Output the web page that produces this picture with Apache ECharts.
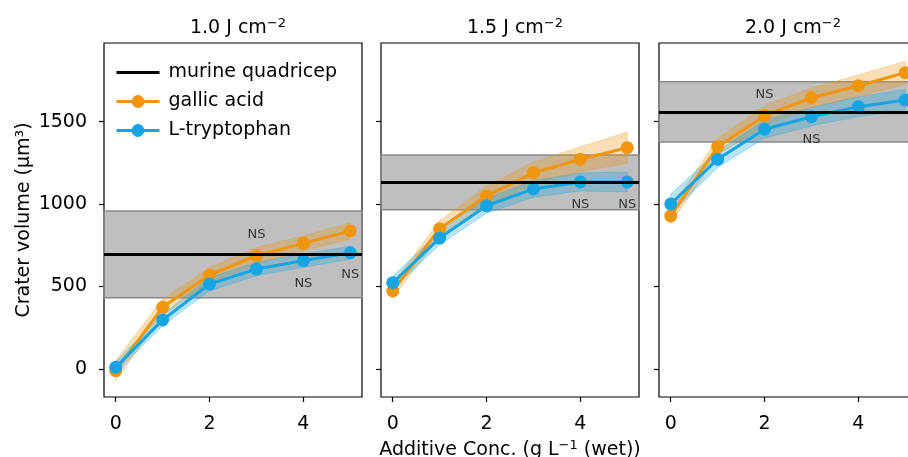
<!DOCTYPE html>
<html>
<head>
<meta charset="utf-8">
<script src="https://cdn.jsdelivr.net/npm/echarts@6/dist/echarts.min.js"></script>
<style>
  html, body { margin: 0; padding: 0; background: #fff; }
  #chart { width: 908px; height: 457px; }
</style>
</head>
<body>
<div id="chart"></div>
<script>
// 数据
const xValues = [0, 1, 2, 3, 4, 5];
const fluences = ['1.0', '1.5', '2.0'];
const xTicks = [0, 2, 4];
const yTicks = [0, 500, 1000, 1500];

const murineMean = [695, 1130, 1557];
const murineLow = [432, 966, 1377];
const murineHigh = [958, 1297, 1742];

const gallicMean = [
  [-10, 374, 570, 687, 762, 837],
  [473, 851, 1049, 1190, 1272, 1342],
  [928, 1348, 1536, 1645, 1718, 1797]
];
const gallicErr = [
  [60, 50, 45, 50, 45, 50],
  [40, 50, 60, 65, 75, 95],
  [45, 50, 60, 60, 65, 70]
];
const tryptoMean = [
  [10, 297, 515, 606, 657, 705],
  [523, 794, 990, 1092, 1134, 1134],
  [1001, 1272, 1454, 1530, 1591, 1631]
];
const tryptoErr = [
  [35, 35, 40, 40, 40, 40],
  [40, 40, 45, 50, 55, 60],
  [60, 50, 55, 55, 60, 65]
];
// NS 标注位置
const nsMarks = [
  [[3, 812], [4, 520], [5, 570]],
  [[4, 996], [5, 996]],
  [[2, 1666], [3, 1393]]
];

const ORANGE = '#F0950C';
const BLUE = '#16A4E2';
const FONT = 'DejaVu Sans';

const gridLefts = [104, 381, 659];
const gridWidth = 258;

const grids = gridLefts.map(l => ({
  left: l, top: 43, width: gridWidth, height: 354,
  outerBoundsMode: 'none',
  show: true, borderColor: '#000', borderWidth: 1.2, backgroundColor: '#fff'
}));

const xAxes = gridLefts.map((l, i) => ({
  type: 'value', gridIndex: i, min: -0.25, max: 5.25,
  splitLine: { show: false },
  axisLine: { show: false, onZero: false },
  axisTick: { show: true, customValues: xTicks, length: 5, lineStyle: { color: '#000', width: 1.2 } },
  axisLabel: { customValues: xTicks, color: '#000', fontSize: 19, fontFamily: FONT, margin: 18 },
  name: i === 1 ? 'Additive Conc. (g L{sup|−1} (wet))' : '',
  nameLocation: 'middle', nameGap: 42,
  nameTextStyle: {
    color: '#000', fontSize: 19, fontFamily: FONT,
    rich: { sup: { fontSize: 13, fontFamily: FONT, color: '#000', padding: [0, 0, 10, 0] } }
  }
}));

const yAxes = gridLefts.map((l, i) => ({
  type: 'value', gridIndex: i, min: -170, max: 1977,
  splitLine: { show: false },
  axisLine: { show: false, onZero: false },
  axisTick: { show: true, customValues: yTicks, length: 5, lineStyle: { color: '#000', width: 1.2 } },
  axisLabel: {
    show: i === 0, customValues: yTicks, color: '#000', fontSize: 19, fontFamily: FONT, margin: 17,
    formatter: v => String(v)
  },
  name: i === 0 ? 'Crater volume (µm³)' : '',
  nameLocation: 'middle', nameGap: 70,
  nameTextStyle: { color: '#000', fontSize: 19, fontFamily: FONT }
}));

// 误差带，用多边形画
function bandSeries(mean, err, color, i) {
  const low = mean.map((v, k) => v - err[k]);
  const high = mean.map((v, k) => v + err[k]);
  return {
    type: 'custom', xAxisIndex: i, yAxisIndex: i, silent: true, z: 2,
    data: xValues.map((x, k) => [x, low[k], high[k]]),
    renderItem: (params, api) => {
      if (params.dataIndex !== 0) return;
      const top = xValues.map((x, k) => api.coord([x, high[k]]));
      const bot = xValues.map((x, k) => api.coord([x, low[k]])).reverse();
      return {
        type: 'polygon',
        shape: { points: top.concat(bot) },
        style: { fill: color, stroke: color, lineWidth: 1, opacity: 0.3 }
      };
    }
  };
}

function pairs(ys) {
  return xValues.map((x, k) => [x, ys[k]]);
}

const series = [];
for (let i = 0; i < 3; i++) {
  // 小鼠股四头肌参考线和范围
  series.push({
    name: 'murine quadricep', type: 'line', xAxisIndex: i, yAxisIndex: i,
    data: [], symbol: 'none', z: 1,
    lineStyle: { color: '#000', width: 3 }, itemStyle: { color: '#000', opacity: 0 },
    markArea: {
      silent: true,
      itemStyle: { color: 'rgba(128,128,128,0.5)', borderColor: '#8a8a8a', borderWidth: 1.5, opacity: 1 },
      data: [[{ yAxis: murineLow[i] }, { yAxis: murineHigh[i] }]]
    },
    markLine: {
      silent: true, symbol: ['none', 'none'], label: { show: false },
      lineStyle: { color: '#000', width: 3, type: 'solid', opacity: 1 },
      data: [{ yAxis: murineMean[i] }]
    }
  });

  series.push(bandSeries(gallicMean[i], gallicErr[i], ORANGE, i));
  series.push(bandSeries(tryptoMean[i], tryptoErr[i], BLUE, i));

  series.push({
    name: 'gallic acid', type: 'line', xAxisIndex: i, yAxisIndex: i,
    data: pairs(gallicMean[i]), symbol: 'circle', symbolSize: 13, z: 3,
    lineStyle: { color: ORANGE, width: 3 }, itemStyle: { color: ORANGE }
  });
  series.push({
    name: 'L-tryptophan', type: 'line', xAxisIndex: i, yAxisIndex: i,
    data: pairs(tryptoMean[i]), symbol: 'circle', symbolSize: 13, z: 4,
    lineStyle: { color: BLUE, width: 3 }, itemStyle: { color: BLUE }
  });

  series.push({
    name: 'ns' + i, type: 'scatter', xAxisIndex: i, yAxisIndex: i,
    data: nsMarks[i], symbolSize: 0, silent: true, z: 5,
    label: { show: true, position: 'inside', formatter: 'NS', color: '#111', fontSize: 13, fontFamily: FONT }
  });
}

const titles = gridLefts.map((l, i) => ({
  text: fluences[i] + ' J cm{sup|−2}',
  left: l + gridWidth / 2, top: 12, textAlign: 'center',
  textStyle: {
    color: '#000', fontSize: 19, fontWeight: 'normal', fontFamily: FONT,
    rich: { sup: { fontSize: 13, fontFamily: FONT, color: '#000', padding: [0, 0, 10, 0] } }
  }
}));

const chart = echarts.init(document.getElementById('chart'), null, { renderer: 'canvas' });
chart.setOption({
  animation: false,
  backgroundColor: '#fff',
  title: titles,
  legend: {
    data: [
      { name: 'murine quadricep', itemStyle: { opacity: 0 } },
      'gallic acid',
      'L-tryptophan'
    ],
    orient: 'vertical', left: 110, top: 58,
    itemWidth: 43, itemHeight: 16, itemGap: 10,
    lineStyle: { width: 3 },
    textStyle: { color: '#000', fontSize: 19, fontFamily: FONT, padding: [0, 0, 0, 4] }
  },
  grid: grids,
  xAxis: xAxes,
  yAxis: yAxes,
  series: series
});
</script>
</body>
</html>
